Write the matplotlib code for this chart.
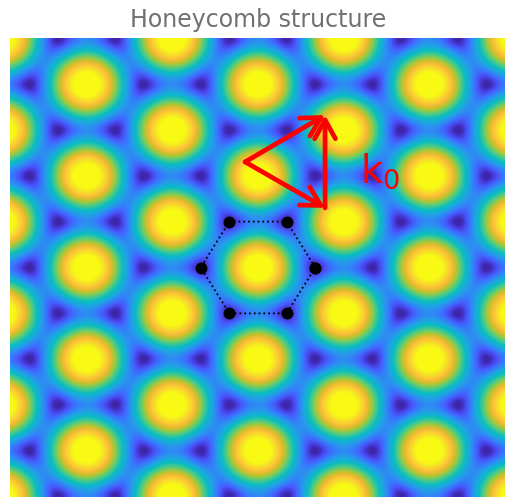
import numpy as np
import matplotlib
matplotlib.use("Agg")
import matplotlib.pyplot as plt
from matplotlib.colors import LinearSegmentedColormap

# Three-beam interference: beam directions (deg), 120 degrees apart
beam_angles_deg = [90, 210, 330]
lattice_const = 1.0
x_range = [-2.5, 2.5]
y_range = [-2.5, 2.5]
grid_n = 400
# colour limits on the normalised field amplitude
clim = [0.06, 0.93]

# Hexagon of intensity zeros around the central maximum
hex_angles_deg = [0, 60, 120, 180, 240, 300]

# Wave-vector triangle drawn on top of the pattern
arrow_origin = [-0.13, 1.15]
k_vectors = [[0.806, 0.51], [0.806, -0.50]]
k0_label = "k$_0$"
k0_label_pos = [1.03, 0.92]

title_text = "Honeycomb structure"

# Parula-like colour map
parula_colors = [
    (0.2422, 0.1504, 0.6603), (0.2647, 0.1978, 0.7952), (0.2803, 0.2782, 0.9221),
    (0.2760, 0.3667, 0.9829), (0.2206, 0.4603, 0.9973), (0.1764, 0.5499, 0.9520),
    (0.1380, 0.6276, 0.8973), (0.0689, 0.6948, 0.8394), (0.0433, 0.7411, 0.7394),
    (0.1938, 0.7758, 0.6251), (0.3406, 0.8008, 0.4789), (0.5616, 0.7942, 0.3045),
    (0.7738, 0.7598, 0.1646), (0.9393, 0.7288, 0.2100), (0.9952, 0.7893, 0.2028),
    (0.9610, 0.8890, 0.1537), (0.9769, 0.9839, 0.0805),
]
parula = LinearSegmentedColormap.from_list("parula", parula_colors, N=256)

# Field of three plane waves; |k| chosen so the bright spots form a
# triangular lattice with the given lattice constant
g = 4 * np.pi / (np.sqrt(3) * lattice_const)
k_mag = g / np.sqrt(3)
xs = np.linspace(x_range[0], x_range[1], grid_n)
ys = np.linspace(y_range[0], y_range[1], grid_n)
X, Y = np.meshgrid(xs, ys)
field = np.zeros_like(X, dtype=complex)
for ang in np.deg2rad(beam_angles_deg):
    field += np.exp(1j * k_mag * (np.cos(ang) * X + np.sin(ang) * Y))
amplitude = np.abs(field) / len(beam_angles_deg)

fig = plt.figure(figsize=(5.06, 4.99), dpi=100)
ax = fig.add_axes([10 / 506, 2 / 499, 496 / 506, 459 / 499])
ax.imshow(amplitude, cmap=parula, origin="lower", aspect="auto",
          extent=[x_range[0], x_range[1], y_range[0], y_range[1]],
          interpolation="bilinear", vmin=clim[0], vmax=clim[1])

# Hexagon through the zeros
r_hex = lattice_const / np.sqrt(3)
ha = np.deg2rad(hex_angles_deg + hex_angles_deg[:1])
ax.plot(r_hex * np.cos(ha), r_hex * np.sin(ha), color="black", ls=":",
        lw=1.3, marker="o", ms=7.5)

# Wave-vector triangle
ox, oy = arrow_origin
tips = [(ox + kx, oy + ky) for kx, ky in k_vectors]
style = dict(arrowstyle="->,head_length=0.45,head_width=0.25", color="red",
             lw=3.4, mutation_scale=30, shrinkA=0, shrinkB=0)
for tx, ty in tips:
    ax.annotate("", xy=(tx, ty), xytext=(ox, oy), arrowprops=style)
ax.annotate("", xy=tips[0], xytext=tips[1], arrowprops=style)
ax.text(k0_label_pos[0], k0_label_pos[1], k0_label, color="red", fontsize=28,
        ha="left", va="baseline")

ax.set_xlim(x_range)
ax.set_ylim(y_range)
ax.set_axis_off()
ax.set_title(title_text, fontsize=17, color="#707070", pad=8)

fig.savefig("out.png", dpi=100)
